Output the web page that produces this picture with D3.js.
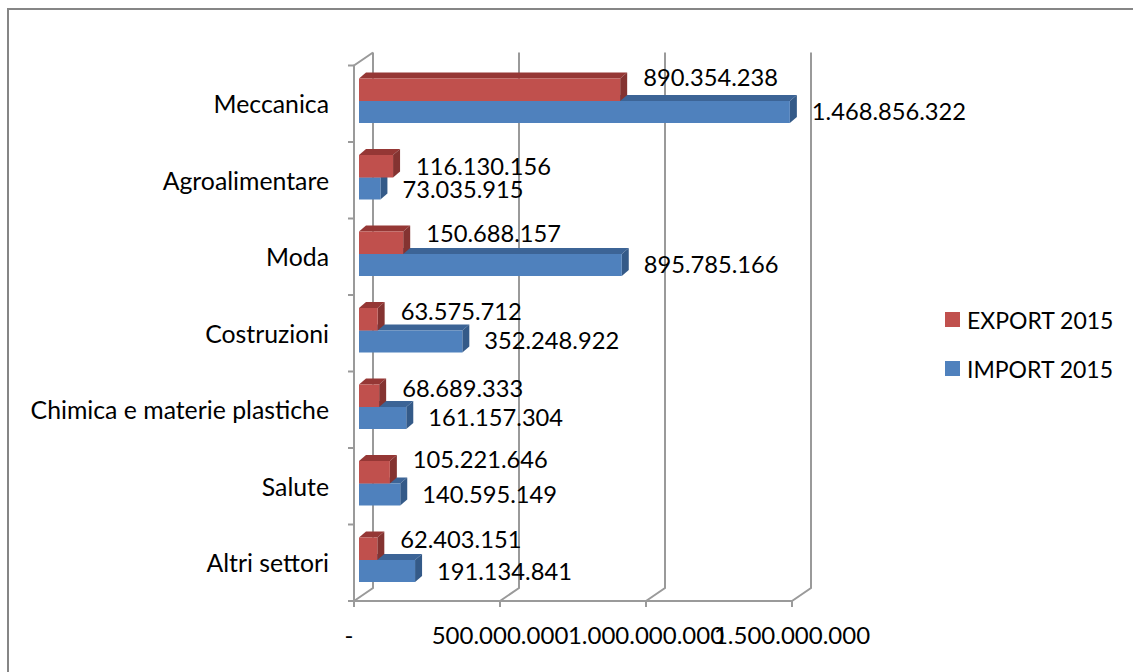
<!DOCTYPE html>
<html>
<head>
<meta charset="utf-8">
<script src="https://cdn.jsdelivr.net/npm/d3@7"></script>
<style>
  body { margin: 0; background: #fff; }
  text { font-family: Lato, "Open Sans", sans-serif; font-size: 24px; fill: #000; }
  .ylabel { font-size: 24.8px; }
  .legend-label { font-size: 23px; }
  .label-export, .label-import { font-size: 23.7px; }
</style>
</head>
<body>
<div id="chart"></div>
<script>
// data
const categories = ['Meccanica', 'Agroalimentare', 'Moda', 'Costruzioni', 'Chimica e materie plastiche', 'Salute', 'Altri settori'];
const exportValues = [890354238, 116130156, 150688157, 63575712, 68689333, 105221646, 62403151];
const importValues = [1468856322, 73035915, 895785166, 352248922, 161157304, 140595149, 191134841];
const tickValues = [0, 500000000, 1000000000, 1500000000];
const tickLabels = ['-', '500.000.000', '1.000.000.000', '1.500.000.000'];
const legendNames = ['EXPORT 2015', 'IMPORT 2015'];

// the labels are hand placed in the original, so each one gets its own nudge
const exportLabelNudge = [-12.5, -0.5, -9.5, -8.5, -7.5, -13.5, -9.5];
const importLabelNudge = [-1.5, 0, -1.5, -1.5, -1.5, -0.5, -0.5];

const width = 1133;
const height = 672;
const depthX = 19;   // wall offset
const depthY = 13;
const barDepthX = 7;
const barDepthY = 6;

const svg = d3.select('#chart').append('svg')
    .attr('width', width)
    .attr('height', height)
    .style('display', 'block');

// outer frame, runs off the right and bottom edge
svg.append('path')
    .attr('d', d3.line()([[8, height], [8, 9], [width, 9]]))
    .attr('fill', 'none')
    .attr('stroke', '#868686')
    .attr('stroke-width', 2);

// scales
const xAxisScale = d3.scaleLinear().domain([0, 1500000000]).range([354, 792]);
const barScale = d3.scaleLinear().domain([0, 1500000000]).range([359, 799]);
const yScale = d3.scaleBand().domain(categories).range([65.5, 601]);
const bandY = name => yScale(name);
const redHeight = 22.5;
const blueHeight = 22;
const barTop = name => bandY(name) + 13;

const axisColor = '#9a9a9a';
const floorY = yScale.range()[1];
const topY = yScale.range()[0];

// back wall grid lines with their floor step
const grid = svg.append('g').attr('fill', 'none').attr('stroke', axisColor).attr('stroke-width', 2);
grid.selectAll('path')
    .data(tickValues)
    .join('path')
    .attr('d', d => d3.line()([
        [xAxisScale(d), floorY],
        [xAxisScale(d) + depthX, floorY - depthY],
        [xAxisScale(d) + depthX, topY - depthY]
    ]));

// side wall top edge and front axes
grid.append('path').attr('d', d3.line()([[xAxisScale(0), floorY], [xAxisScale(0), topY], [xAxisScale(0) + depthX, topY - depthY]]));
grid.append('path').attr('d', d3.line()([[xAxisScale(0), floorY], [xAxisScale(1500000000), floorY]]));

// category ticks
grid.selectAll('.ytick')
    .data(d3.range(categories.length + 1))
    .join('line')
    .attr('class', 'ytick')
    .attr('x1', xAxisScale(0) - 6)
    .attr('x2', xAxisScale(0))
    .attr('y1', i => topY + yScale.step() * i)
    .attr('y2', i => topY + yScale.step() * i);

// value ticks
grid.selectAll('.xtick')
    .data(tickValues)
    .join('line')
    .attr('class', 'xtick')
    .attr('x1', d => xAxisScale(d))
    .attr('x2', d => xAxisScale(d))
    .attr('y1', floorY)
    .attr('y2', floorY + 6);

// one 3d bar = top face, side face, front face
function drawBar(g, x0, x1, y, h, front, top, side) {
    g.append('path')
        .attr('fill', top)
        .attr('d', d3.line()([[x0, y], [x0 + barDepthX, y - barDepthY], [x1 + barDepthX, y - barDepthY], [x1, y]]) + 'Z');
    g.append('path')
        .attr('fill', side)
        .attr('d', d3.line()([[x1, y], [x1 + barDepthX, y - barDepthY], [x1 + barDepthX, y + h - barDepthY], [x1, y + h]]) + 'Z');
    g.append('rect')
        .attr('x', x0)
        .attr('y', y)
        .attr('width', x1 - x0)
        .attr('height', h)
        .attr('fill', front);
}

const bars = svg.append('g');
categories.forEach((name, i) => {
    const y = barTop(name);
    drawBar(bars, barScale(0), barScale(importValues[i]), y + redHeight, blueHeight, '#4f81bd', '#3c6496', '#345a88');
    drawBar(bars, barScale(0), barScale(exportValues[i]), y, redHeight, '#c0504d', '#953735', '#843331');
});

const numberLabel = d3.formatLocale({ decimal: ',', thousands: '.', grouping: [3], currency: ['', ''] }).format(',d');

// data labels
const labels = svg.append('g');
labels.selectAll('.label-export')
    .data(exportValues)
    .join('text')
    .attr('class', 'label-export')
    .attr('x', d => barScale(d) + 23)
    .attr('y', (d, i) => barTop(categories[i]) + 11 + exportLabelNudge[i])
    .attr('dominant-baseline', 'central')
    .text(d => numberLabel(d));
labels.selectAll('.label-import')
    .data(importValues)
    .join('text')
    .attr('class', 'label-import')
    .attr('x', d => barScale(d) + 22)
    .attr('y', (d, i) => barTop(categories[i]) + redHeight + 11 + importLabelNudge[i])
    .attr('dominant-baseline', 'central')
    .text(d => numberLabel(d));

// category labels
svg.selectAll('.ylabel')
    .data(categories)
    .join('text')
    .attr('class', 'ylabel')
    .attr('x', 329)
    .attr('y', d => bandY(d) + yScale.step() / 2)
    .attr('dominant-baseline', 'central')
    .attr('text-anchor', 'end')
    .text(d => d);

// value axis labels, the dash sits a bit left of its tick
svg.selectAll('.xlabel')
    .data(tickValues)
    .join('text')
    .attr('class', 'xlabel')
    .attr('x', d => xAxisScale(d) - (d === 0 ? 5 : 0))
    .attr('y', 634)
    .attr('dominant-baseline', 'central')
    .attr('text-anchor', 'middle')
    .text((d, i) => tickLabels[i]);

// legend
const legendColors = ['#c0504d', '#4f81bd'];
const legendY = d3.scalePoint().domain(legendNames).range([319.5, 368.5]);
svg.selectAll('.legend-swatch')
    .data(legendNames)
    .join('rect')
    .attr('class', 'legend-swatch')
    .attr('x', 945)
    .attr('y', d => legendY(d) - 7.5)
    .attr('width', 15)
    .attr('height', 15)
    .attr('fill', (d, i) => legendColors[i]);
svg.selectAll('.legend-label')
    .data(legendNames)
    .join('text')
    .attr('class', 'legend-label')
    .attr('x', 967)
    .attr('y', d => legendY(d))
    .attr('dominant-baseline', 'central')
    .text(d => d);
</script>
</body>
</html>
